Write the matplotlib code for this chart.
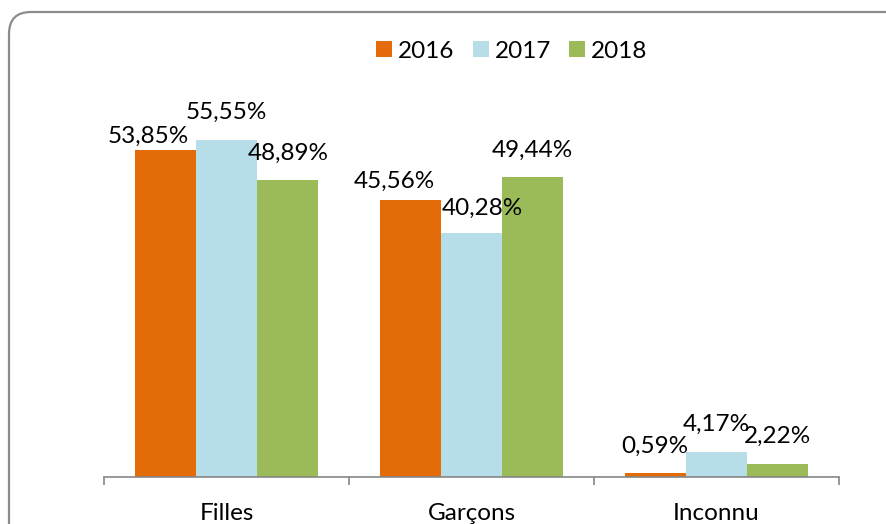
import matplotlib
matplotlib.use("Agg")
import matplotlib.pyplot as plt
from matplotlib.patches import FancyBboxPatch, Patch
from matplotlib.transforms import IdentityTransform

categories = ["Filles", "Garçons", "Inconnu"]
years = ["2016", "2017", "2018"]
values = {
    "2016": [53.85, 45.56, 0.59],
    "2017": [55.55, 40.28, 4.17],
    "2018": [48.89, 49.44, 2.22],
}
colors = {"2016": "#E36C09", "2017": "#B7DDE8", "2018": "#9BBB59"}

# label nudges in pixels (dx, dy of label centre above bar top)
label_offsets = {
    ("2016", 0): (-17, 14),
    ("2016", 1): (-16, 19),
    ("2017", 1): (11, 24),
}
default_offset = (0, 27)

plt.rcParams["font.family"] = ["Lato", "DejaVu Sans"]
FS = 17.5

W, H = 887, 524
fig = plt.figure(figsize=(W / 100, H / 100), dpi=100)
ax = fig.add_axes([104 / W, 1 - 477 / H, (839 - 104) / W, (477 - 112.8) / H])

bw = 0.25
for i, y in enumerate(years):
    xs = [c + (i - 1) * bw for c in range(len(categories))]
    ax.bar(xs, values[y], width=bw, color=colors[y], edgecolor="none", zorder=2)
    for j, (x, v) in enumerate(zip(xs, values[y])):
        dx, dy = label_offsets.get((y, j), default_offset)
        ax.annotate(f"{v:.2f}%".replace(".", ","), xy=(x, v), xytext=(dx, dy),
                    textcoords="offset pixels", ha="center", va="center",
                    fontsize=FS, color="#000000", zorder=3)

ax.set_xlim(-0.5, 2.5)
ax.set_ylim(0, 60)
ax.set_yticks([])
for s in ["top", "right", "left"]:
    ax.spines[s].set_visible(False)
ax.spines["bottom"].set_color("#868686")
ax.spines["bottom"].set_linewidth(1.2)
ax.set_xticks([-0.5, 0.5, 1.5, 2.5])
ax.set_xticklabels([])
ax.tick_params(axis="x", length=6, width=1.2, color="#868686", direction="out")
ax.set_xticks([0, 1, 2], minor=True)
ax.set_xticklabels(categories, minor=True, fontsize=FS, color="#000000")
ax.tick_params(axis="x", which="minor", length=0, pad=19)

handles = [Patch(facecolor=colors[y], edgecolor="none", label=y) for y in years]
fig.legend(handles=handles, loc="center", bbox_to_anchor=(512 / W, 1 - 51 / H),
           ncol=3, frameon=False, fontsize=FS, handlelength=0.65, handleheight=0.65,
           handletextpad=0.25, columnspacing=0.75, borderaxespad=0)

border = FancyBboxPatch((9, -40), 940, 512 + 40, boxstyle="round,pad=0,rounding_size=22",
                        transform=IdentityTransform(), facecolor="none",
                        edgecolor="#8C8C8C", linewidth=1.6, figure=fig)
fig.patches.append(border)

fig.savefig("out.png", dpi=100)
